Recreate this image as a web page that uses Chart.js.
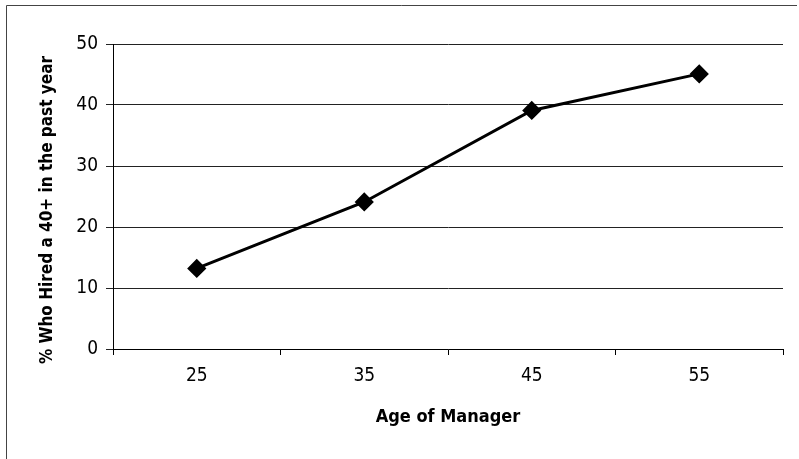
<!DOCTYPE html>
<html>
<head>
<meta charset="utf-8">
<script src="https://cdn.jsdelivr.net/npm/chart.js@4"></script>
<style>
  html, body { margin: 0; padding: 0; background: #fff; }
  #wrap { width: 799px; height: 459px; position: relative; }
</style>
</head>
<body>
<div id="wrap"><canvas id="chart" width="799" height="459"></canvas></div>
<script>
const ages = ['25', '35', '45', '55'];
const hiredPct = [13.2, 24.1, 39.1, 45.1];
const yTicks = [0, 10, 20, 30, 40, 50];
const yTitle = '% Who Hired a 40+ in the past year';

const FONT = "'Liberation Sans Narrow', 'Arial Narrow', 'DejaVu Sans Condensed', sans-serif";

// scanned frame (only top and left edges show) + y title sitting a bit below centre
const frame = {
    id: 'frame',
    afterDraw(chart) {
        const c = chart.ctx;
        c.save();
        c.strokeStyle = '#444';
        c.lineWidth = 1;
        c.beginPath();
        c.moveTo(6.5, 459);
        c.lineTo(6.5, 5.5);
        c.lineTo(797, 5.5);
        c.stroke();
        c.translate(48, 210);
        c.rotate(-Math.PI / 2);
        c.fillStyle = '#000';
        c.font = 'bold 17px ' + FONT;
        c.textAlign = 'center';
        c.textBaseline = 'middle';
        c.fillText(yTitle, 0, 0);
        c.restore();
    }
};

const config = {
    type: 'line',
    data: {
        labels: ages,
        datasets: [{
            data: hiredPct,
            borderColor: '#000',
            backgroundColor: '#000',
            borderWidth: 3,
            pointStyle: 'rectRot',
            pointRadius: 7.5,
            pointHoverRadius: 7.5,
            tension: 0
        }]
    },
    options: {
        responsive: false,
        animation: false,
        layout: { padding: { left: 30, right: 16, top: 44, bottom: 0 } },
        plugins: { legend: { display: false }, tooltip: { enabled: false } },
        scales: {
            x: {
                offset: true,
                grid: { offset: true, drawOnChartArea: false, drawTicks: true, tickLength: 6, color: '#000' },
                border: { color: '#000', width: 1 },
                ticks: { color: '#000', padding: 10, font: { family: FONT, size: 19 } },
                title: { display: true, text: 'Age of Manager', color: '#000', padding: { top: 0, bottom: 31 },
                         font: { family: FONT, size: 18, weight: 'bold' } },
                afterFit: s => { s.height = 110; }
            },
            y: {
                min: 0,
                max: 50,
                afterBuildTicks: s => { s.ticks = yTicks.map(v => ({ value: v })); },
                grid: { color: '#222', lineWidth: 1, tickLength: 7 },
                border: { color: '#000', width: 1 },
                ticks: { color: '#000', padding: 8, font: { family: FONT, size: 19 } },
                title: { display: false },
                afterFit: s => { s.width = 83; }
            }
        }
    },
    plugins: [frame]
};

new Chart(document.getElementById('chart').getContext('2d'), config);
</script>
</body>
</html>
